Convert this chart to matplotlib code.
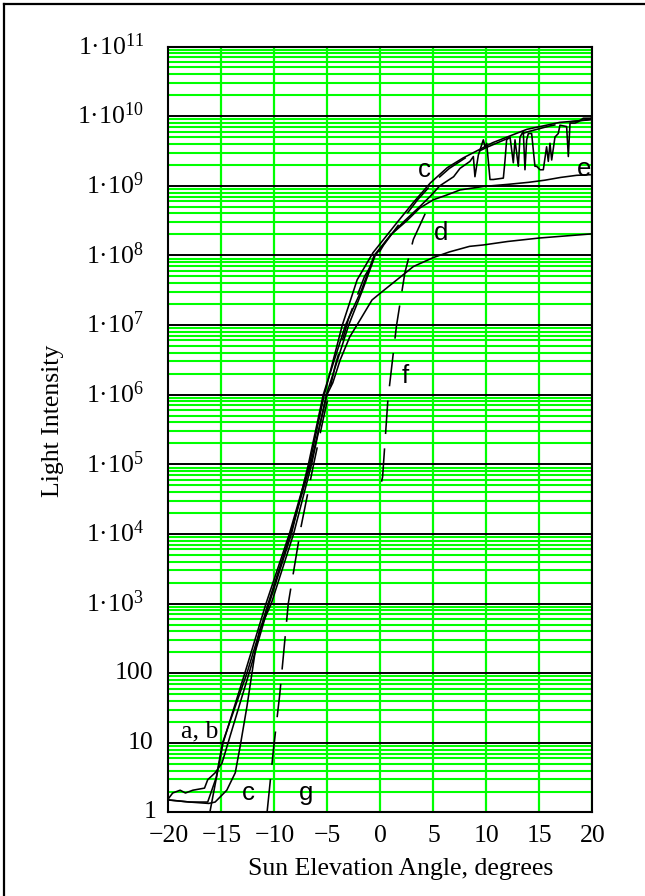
import numpy as np
import matplotlib.pyplot as plt
from matplotlib.lines import Line2D
from matplotlib.transforms import blended_transform_factory, offset_copy

plt.rcParams['font.family'] = ['Liberation Serif', 'DejaVu Serif']
plt.rcParams['mathtext.default'] = 'regular'

# sun elevation (deg) and log10 of light intensity for each record
a_x = [-20, -19.6, -18.9, -18.4, -17.7, -16.6, -16.3, -15.6, -14.95, -14.2, -12.4, -10.5,
       -8.4, -6.8, -5.4, -3.3, -1.8, -0.6, 1.0, 2.3, 3.7, 4.7, 5.6, 6.9, 7.5,
       8.44, 8.76, 8.91, 9.23, 9.70, 9.86, 10.02, 10.33, 10.64, 11.59, 11.74, 11.90,
       12.22, 12.53, 12.69, 13.00, 13.16, 13.47, 13.63, 13.79, 13.95, 14.26, 14.57,
       14.73, 15.05, 15.36, 15.67, 15.83, 15.99, 16.15, 16.46, 16.77, 16.93, 17.56,
       17.72, 17.88, 18.35, 18.66, 19.13, 19.76, 20]
a_log = [0.20, 0.28, 0.32, 0.28, 0.32, 0.35, 0.47, 0.57, 0.71, 1.09, 2.0, 3.0,
         4.0, 5.0, 6.0, 7.0, 7.5, 8.0, 8.3, 8.5, 8.7, 8.85, 9.0, 9.13, 9.25,
         9.35, 9.42, 9.13, 9.44, 9.66, 9.56, 9.61, 9.09, 9.09, 9.11, 9.35, 9.66,
         9.70, 9.33, 9.66, 9.28, 9.70, 9.78, 9.23, 9.66, 9.75, 9.75, 9.28,
         9.28, 9.23, 9.23, 9.56, 9.35, 9.61, 9.37, 9.70, 9.75, 9.87, 9.85,
         9.42, 9.90, 9.90, 9.92, 9.97, 9.97, 9.98]

b_x = [-20, -18, -16.2, -15.6, -14.5, -13.7, -13.25, -12.6, -11.8, -11.4, -10.3, -8.2,
       -6.5, -5.1, -3.0, -1.7, -0.5, 1.0, 2.5, 3.7, 5.0, 6.3, 7.5, 9.7, 12, 14,
       15.5, 17, 18.5, 20]
b_log = [0.18, 0.15, 0.13, 0.15, 0.32, 0.57, 0.94, 1.52, 2.33, 2.62, 3.0, 4.0,
         5.0, 6.0, 7.0, 7.5, 8.0, 8.3, 8.5, 8.68, 8.8, 8.87, 8.94, 8.99, 9.02, 9.05,
         9.08, 9.12, 9.15, 9.16]

c_x = [-16.1, -14.85, -12.8, -10.8, -8.6, -6.7, -5.3, -3.6, -2.2, -0.7, 1.55, 3.1,
       4.7, 6.3, 7.8, 10.6, 13.8, 16.9, 20]
c_log = [0.0, 1.0, 2.0, 3.0, 4.0, 5.0, 6.0, 7.0, 7.65, 8.04, 8.47, 8.76,
         9.04, 9.26, 9.40, 9.62, 9.81, 9.91, 9.95]

d_x = [-20, -18, -16.3, -15.5, -14.9, -12.6, -10.6, -8.5, -6.6, -5.05, -4.5, -3.8,
       -2.9, -1.9, -0.8, 0, 1.55, 3.1, 5.0, 6.5, 8.4, 9.7, 12, 15, 17.5, 20]
d_log = [0.18, 0.15, 0.15, 0.5, 1.0, 2.0, 3.0, 4.0, 5.0, 6.0, 6.17, 6.5,
         6.83, 7.08, 7.36, 7.46, 7.65, 7.84, 7.97, 8.05, 8.13, 8.15, 8.2, 8.25, 8.28, 8.31]

f_x = [0.1, 0.2, 0.7, 1.5, 2.3, 3.1, 4.4, 5.0]
f_log = [4.75, 4.82, 5.93, 6.98, 7.75, 8.23, 8.66, 8.75]

g_x = [-10.7, -10.1, -9.5, -8.7, -7.5, -6.35, -5.4, -4.3, -3.0, -1.5, 0.3, 2.0,
       3.5, 5.0, 6.5, 8.0, 10, 12, 14, 16, 18, 20]
g_log = [0.0, 0.9, 1.7, 3.0, 4.1, 4.97, 5.65, 6.4, 7.1, 7.7, 8.15, 8.5,
         8.8, 9.05, 9.25, 9.4, 9.55, 9.68, 9.78, 9.86, 9.92, 9.96]

x_ticks = [-20, -15, -10, -5, 0, 5, 10, 15, 20]
y_ticks = [1e0, 1e1, 1e2, 1e3, 1e4, 1e5, 1e6, 1e7, 1e8, 1e9, 1e10, 1e11]
y_labels = ['1', '10', '100'] + ['1\u00b710$^{%d}$' % k for k in range(3, 12)]

# curve labels: text, sun elevation, log10 intensity, family
curve_labels = [('a, b', -17.1, 1.16, 'serif'), ('c', -12.5, 0.28, 'sans'),
                ('g', -7.0, 0.28, 'sans'), ('c', 4.1, 9.23, 'sans'),
                ('d', 5.7, 8.32, 'sans'), ('e', 19.2, 9.24, 'sans'),
                ('f', 2.3, 6.27, 'sans')]

green = '#00ff00'
fs = 18.5

fig = plt.figure(figsize=(6.45, 8.96), dpi=100)
ax = fig.add_axes([0.2612, 0.0932, 0.6574, 0.8549])
ax.set_yscale('log')
ax.set_xlim(-20, 20)
ax.set_ylim(1, 1e11)

# green grid for minor decades and every 5 degrees, black lines on decades
for dec in range(11):
    for m in range(2, 10):
        ax.axhline(m * 10.0 ** dec, color=green, lw=1.5, zorder=1)
for xv in x_ticks[1:]:
    ax.axvline(xv, color=green, lw=1.6, zorder=1)
for yv in y_ticks[1:-1]:
    ax.axhline(yv, color='black', lw=1.4, zorder=2)

dash = (0, (21, 9))
for xs, ls_, st in [(a_x, a_log, '-'), (b_x, b_log, '-'), (c_x, c_log, '-'),
                    (d_x, d_log, '-'), (f_x, f_log, dash), (g_x, g_log, dash)]:
    ax.plot(xs, 10.0 ** np.array(ls_), color='black', lw=1.15, linestyle=st, zorder=3)

for txt, xv, lv, fam in curve_labels:
    family = ['Liberation Serif'] if fam == 'serif' else ['Liberation Sans']
    ax.text(xv, 10.0 ** lv, txt, fontsize=fs, family=family, ha='center', va='center',
            zorder=4)

for sp in ax.spines.values():
    sp.set_linewidth(1.5)
    sp.set_zorder(5)

ax.set_xticks(x_ticks)
ax.set_xticklabels([str(v).replace('-', '\u2212') for v in x_ticks], fontsize=fs)
ax.set_yticks(y_ticks)
ax.set_yticklabels([])
ax.minorticks_off()
ax.tick_params(length=0, pad=9)

trans = blended_transform_factory(ax.transAxes, ax.transData)
for val, lab in zip(y_ticks, y_labels):
    shift = 11.5 if val == 1 else (15.5 if val < 1e3 else 24.5)
    t = offset_copy(trans, fig=fig, x=-shift, y=0, units='dots')
    ax.text(0, val, lab, transform=t, ha='right', va='center', fontsize=fs)

fig.text(53 / 645, 1 - 421 / 896, 'Light Intensity', rotation=90, ha='center',
         va='center', fontsize=fs)
fig.text(401 / 645, 1 - 869 / 896, 'Sun Elevation Angle, degrees', ha='center',
         va='center', fontsize=fs)

# outer frame: only top and left edges fall inside the image
fig.add_artist(Line2D([4 / 645, 4 / 645], [0, 1 - 4 / 896], color='black', lw=1.6,
                      transform=fig.transFigure))
fig.add_artist(Line2D([4 / 645, 1], [1 - 4 / 896, 1 - 4 / 896], color='black', lw=1.6,
                      transform=fig.transFigure))

fig.savefig('out.png', dpi=100)
